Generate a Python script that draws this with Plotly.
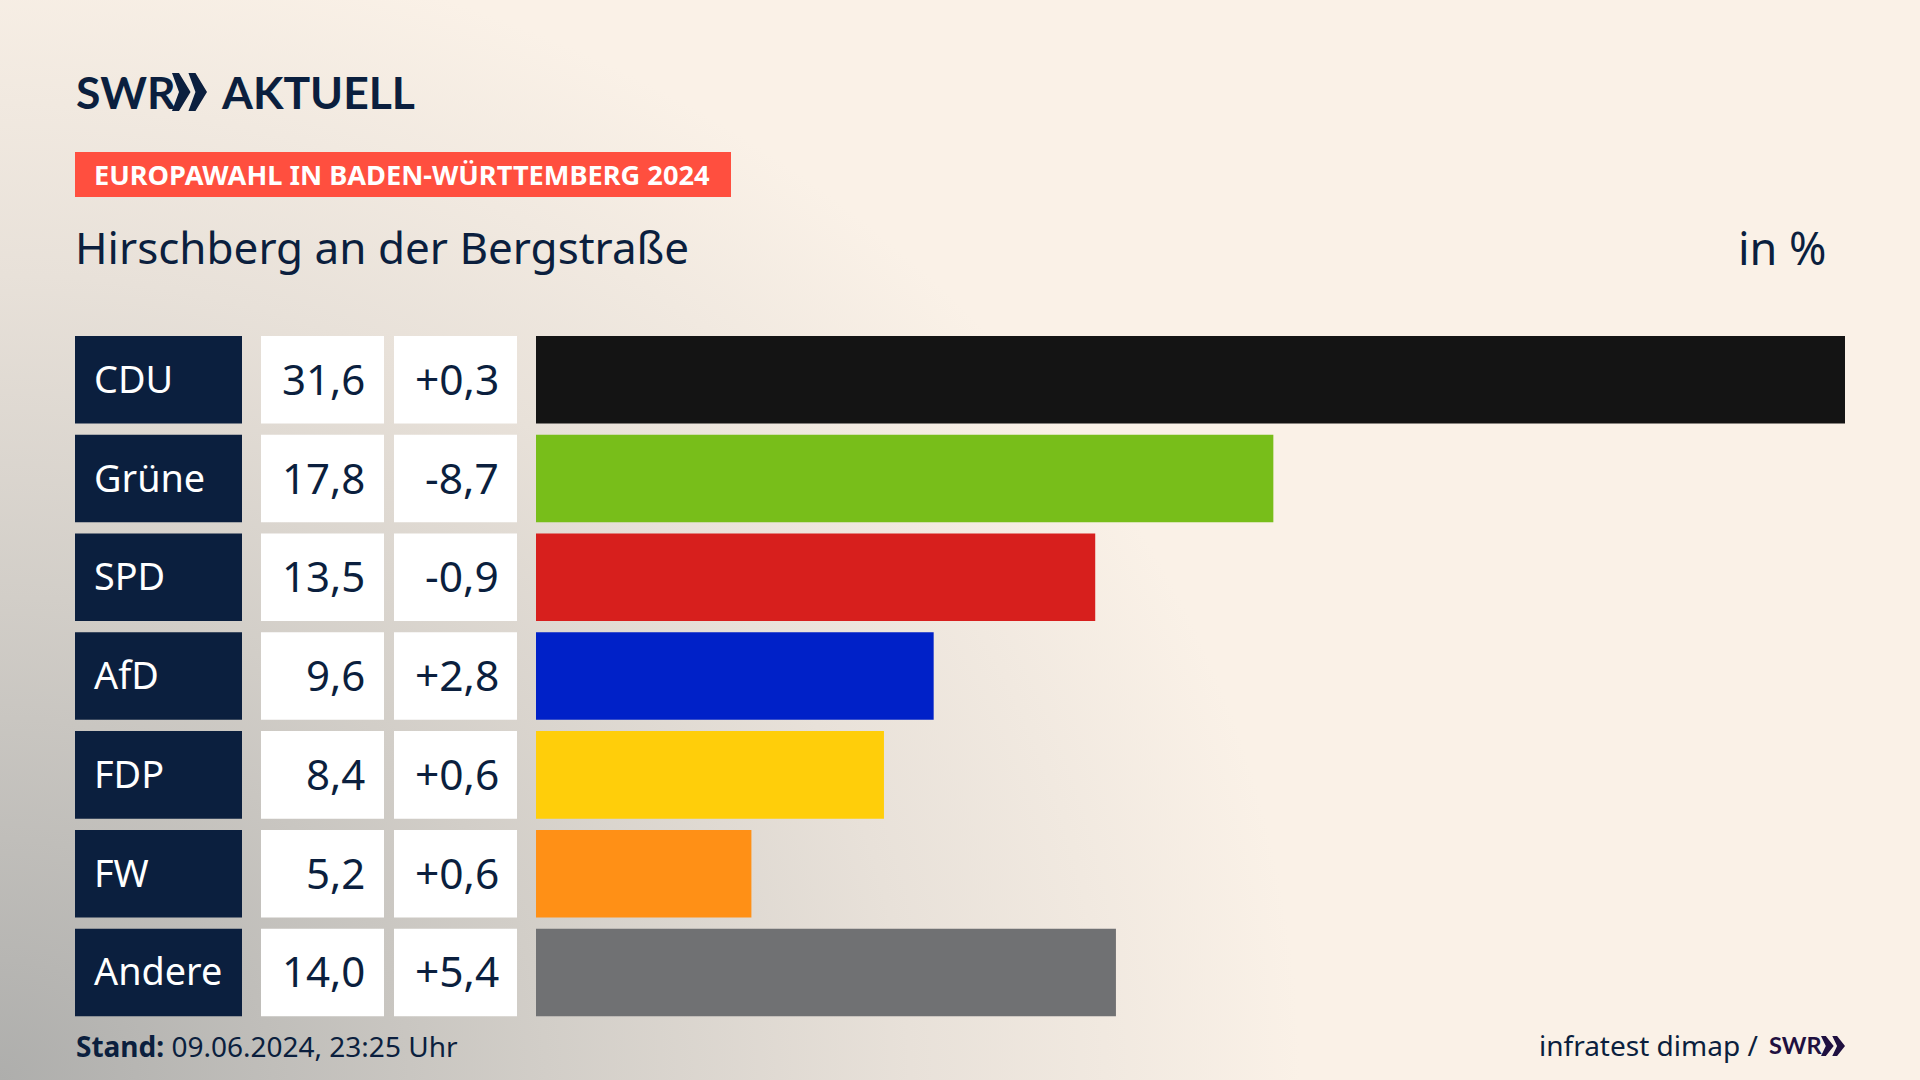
import base64
import plotly.graph_objects as go

parties = ["CDU", "Grüne", "SPD", "AfD", "FDP", "FW", "Andere"]
shares = [31.6, 17.8, 13.5, 9.6, 8.4, 5.2, 14.0]
changes = ["+0,3", "-8,7", "-0,9", "+2,8", "+0,6", "+0,6", "+5,4"]
bar_colors = ["#141414", "#78be1a", "#d71f1d", "#0021c8", "#ffce0a", "#ff9016", "#707173"]

W, H = 1920, 1080
NAVY = "#0b1f3e"
FONT = "Noto Sans"


def px(x):
    return x / W


def py(y):
    return 1 - y / H


# background: grey corner fading into cream
svg = f"""<svg xmlns="http://www.w3.org/2000/svg" width="{W}" height="{H}">
<defs><radialGradient id="g" gradientUnits="userSpaceOnUse" cx="0" cy="0" r="1"
 gradientTransform="translate(0,{H}) scale(1300,1150)">
<stop offset="0" stop-color="#aeaeac"/><stop offset="0.42" stop-color="#d2cec8"/>
<stop offset="0.7" stop-color="#e8e1d9"/><stop offset="1" stop-color="#faf1e7"/>
</radialGradient></defs><rect width="{W}" height="{H}" fill="url(#g)"/></svg>"""
bg = "data:image/svg+xml;base64," + base64.b64encode(svg.encode()).decode()

fig = go.Figure()

# share bars
fig.add_trace(go.Bar(y=parties, x=shares, orientation="h", marker_color=bar_colors,
                     marker_line_width=0, xaxis="x", yaxis="y", hoverinfo="skip"))
# label and value columns
for ax, col in [("x2", NAVY), ("x3", "#ffffff"), ("x4", "#ffffff")]:
    fig.add_trace(go.Bar(y=parties, x=[1] * len(parties), orientation="h", marker_color=col,
                         marker_line_width=0, xaxis=ax, yaxis="y", hoverinfo="skip"))

hidden = dict(visible=False, fixedrange=True)
fig.update_layout(
    width=W, height=H, margin=dict(l=0, r=0, t=0, b=0),
    paper_bgcolor="#faf1e7", plot_bgcolor="rgba(0,0,0,0)",
    showlegend=False, bargap=0.114,
    xaxis=dict(domain=[px(536), px(1845)], range=[0, 31.6], **hidden),
    xaxis2=dict(domain=[px(75), px(242)], range=[0, 1], anchor="y", **hidden),
    xaxis3=dict(domain=[px(261), px(384)], range=[0, 1], anchor="y", **hidden),
    xaxis4=dict(domain=[px(394), px(517)], range=[0, 1], anchor="y", **hidden),
    yaxis=dict(domain=[py(1021.8), py(330.4)], autorange="reversed", **hidden),
    images=[dict(source=bg, xref="paper", yref="paper", x=0, y=1, sizex=1, sizey=1,
                 sizing="stretch", xanchor="left", yanchor="top", layer="below")],
)


def text(x, y, s, size, color=NAVY, anchor="left", yref="paper", family=FONT, yshift=0):
    fig.add_annotation(x=x, y=y, text=s, xref="paper", yref=yref, showarrow=False,
                       xanchor=anchor, yanchor="middle", align=anchor, yshift=yshift,
                       font=dict(family=family, size=size, color=color))


# table text
for name, share, change in zip(parties, shares, changes):
    text(px(91.5), name, name, 37.8, "#ffffff", yref="y", yshift=1.5)
    text(px(367), name, f"{share:.1f}".replace(".", ","), 42, anchor="right", yref="y", yshift=1.5)
    text(px(501), name, change, 42.5, anchor="right", yref="y", yshift=1.5)

# header
fig.add_shape(type="rect", xref="paper", yref="paper", x0=px(75), x1=px(731), y0=py(152), y1=py(197),
              fillcolor="#ff4f3f", line_width=0, layer="below")
text(px(92), py(175), "<b>EUROPAWAHL IN BADEN-WÜRTTEMBERG 2024</b>", 27.2, "#ffffff")
text(px(73), py(247.5), "Hirschberg an der Bergstraße", 44)
text(px(1829), py(247.5), "in %", 45, anchor="right")

# logo
text(px(74), py(92), "<b>SWR</b>", 44.5, family="Lato")
text(px(219), py(92), "<b>AKTUELL</b>", 44.5, family="Lato")


def chevrons(x, y, w, h, color):
    # two pointed arrows, sized from the box x,y,w,h in pixels
    path = ""
    for off in (0, 0.47):
        pts = [(x + off * w, y), (x + (off + 0.2) * w, y), (x + (off + 0.53) * w, y + h / 2),
               (x + (off + 0.2) * w, y + h), (x + off * w, y + h), (x + (off + 0.2) * w, y + h / 2)]
        path += "M" + " L".join(f"{px(a):.5f},{py(b):.5f}" for a, b in pts) + " Z "
    fig.add_shape(type="path", xref="paper", yref="paper", path=path, fillcolor=color, line_width=0)


chevrons(172, 73, 35, 38, NAVY)

# footer
text(px(73.8), py(1046), "<b>Stand:</b> 09.06.2024, 23:25 Uhr", 28)
text(px(1760), py(1045), "infratest dimap /", 28, anchor="right")
text(px(1767), py(1045), "<b>SWR</b>", 23.5, "#1f1040", family="Lato")
chevrons(1821, 1036, 24, 20, "#1f1040")

fig.write_html("out.html", config={"displayModeBar": False},
               post_script="document.body.style.margin='0';document.body.style.overflow='hidden';")
